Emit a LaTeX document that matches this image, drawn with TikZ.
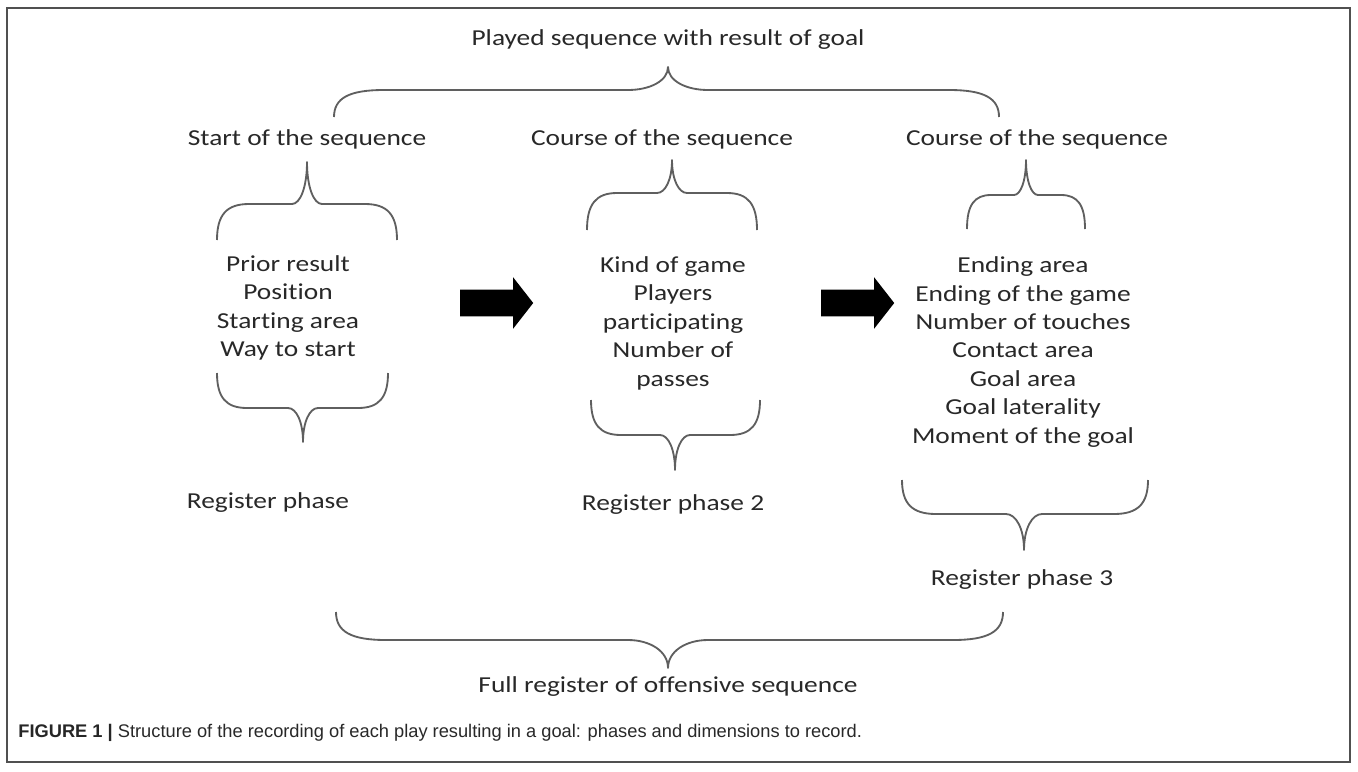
\documentclass[tikz,border=0pt]{standalone}
\usepackage{fontspec}
\setmainfont{Carlito}[FakeStretch=1.2, Ligatures=NoCommon, Contextuals=NoAlternate]
\newfontfamily\capfont{Liberation Sans}
\usepackage{tikz}
\usetikzlibrary{shapes.arrows}
\definecolor{bracegray}{RGB}{95, 95, 95}
\definecolor{textgray}{RGB}{40, 40, 40}
\definecolor{framegray}{RGB}{80, 80, 80}
\tikzstyle{phasetext} = [text=textgray, font=\fontsize{13}{16.2}\selectfont, inner sep=0pt, align=center]
\tikzstyle{bigarrow} = [single arrow, fill=black, draw=none, inner xsep=0pt, inner ysep=0.26cm, minimum height=1.46cm, single arrow head extend=0.25cm, single arrow tip angle=104]
\tikzstyle{bracket} = [draw=bracegray, line width=1.05pt, line join=round]
% brace: x left, x right, x tip, y ends, y bar, y tip, corner run, tip run
\newcommand{\wbrace}[8]{%
  \draw[bracket] (#1,#4) .. controls (#1,{#5+0.3*(#4-#5)}) and ({#1+0.3*#7},#5) .. ({#1+#7},#5) -- ({#3-#8},#5)
    .. controls ({#3-0.45*#8},#5) and (#3,{#5+0.4*(#6-#5)}) .. (#3,#6)
    .. controls (#3,{#5+0.4*(#6-#5)}) and ({#3+0.45*#8},#5) .. ({#3+#8},#5)
    -- ({#2-#7},#5) .. controls ({#2-0.3*#7},#5) and (#2,{#5+0.3*(#4-#5)}) .. (#2,#4);}

\begin{document}
\begin{tikzpicture}[x=0.02cm, y=-0.02cm]
\useasboundingbox (0,0) rectangle (1358,771);

% Frame
\draw[draw=framegray, line width=0.8pt] (7,8) rectangle (1350,762);

% Top level
\node[phasetext] (played) at (668,40) {Played sequence with result of goal};

% Headings
\node[phasetext] (head1) at (307,139) {Start of the sequence};
\node[phasetext] (head2) at (662,139) {Course of the sequence};
\node[phasetext] (head3) at (1037,139) {Course of the sequence};

% Dimensions of each phase
\node[phasetext] (dims1) at (288,308) {Prior result\\Position\\Starting area\\Way to start};
\node[phasetext] (dims2) at (673,323) {Kind of game\\Players\\participating\\Number of\\passes};
\node[phasetext] (dims3) at (1023,352) {Ending area\\Ending of the game\\Number of touches\\Contact area\\Goal area\\Goal laterality\\Moment of the goal};

% Register phases
\node[phasetext] (reg1) at (268,503) {Register phase};
\node[phasetext] (reg2) at (673,505) {Register phase 2};
\node[phasetext] (reg3) at (1022,580) {Register phase 3};
\node[phasetext] (full) at (668,687) {Full register of offensive sequence};

% Block arrows
\node[bigarrow] (arr1) at (491.5,303) {};
\node[bigarrow] (arr2) at (852.5,303) {};

% Braces
\wbrace{334}{999}{668}{117}{90}{67}{50}{40}
\wbrace{217}{397}{307}{240}{204}{162}{32}{15}
\wbrace{587}{757}{672}{230}{193}{160}{30}{15}
\wbrace{967}{1085}{1026}{229}{195}{160}{24}{12}
\wbrace{217}{388}{303}{373}{408}{442}{30}{15}
\wbrace{591}{760}{675}{400}{435}{470}{30}{15}
\wbrace{902}{1148}{1024}{480}{514}{550}{34}{18}
\wbrace{336}{1003}{668}{612}{640}{668}{50}{40}

% Caption
\node[anchor=west, inner sep=0pt, text=textgray, font=\capfont\fontsize{10.4}{12}\selectfont] (caption) at (18,733)
  {{\bfseries\color{black!85}FIGURE 1 |} Structure of the recording of each play resulting in a goal: phases and dimensions to record.};

\end{tikzpicture}
\end{document}
